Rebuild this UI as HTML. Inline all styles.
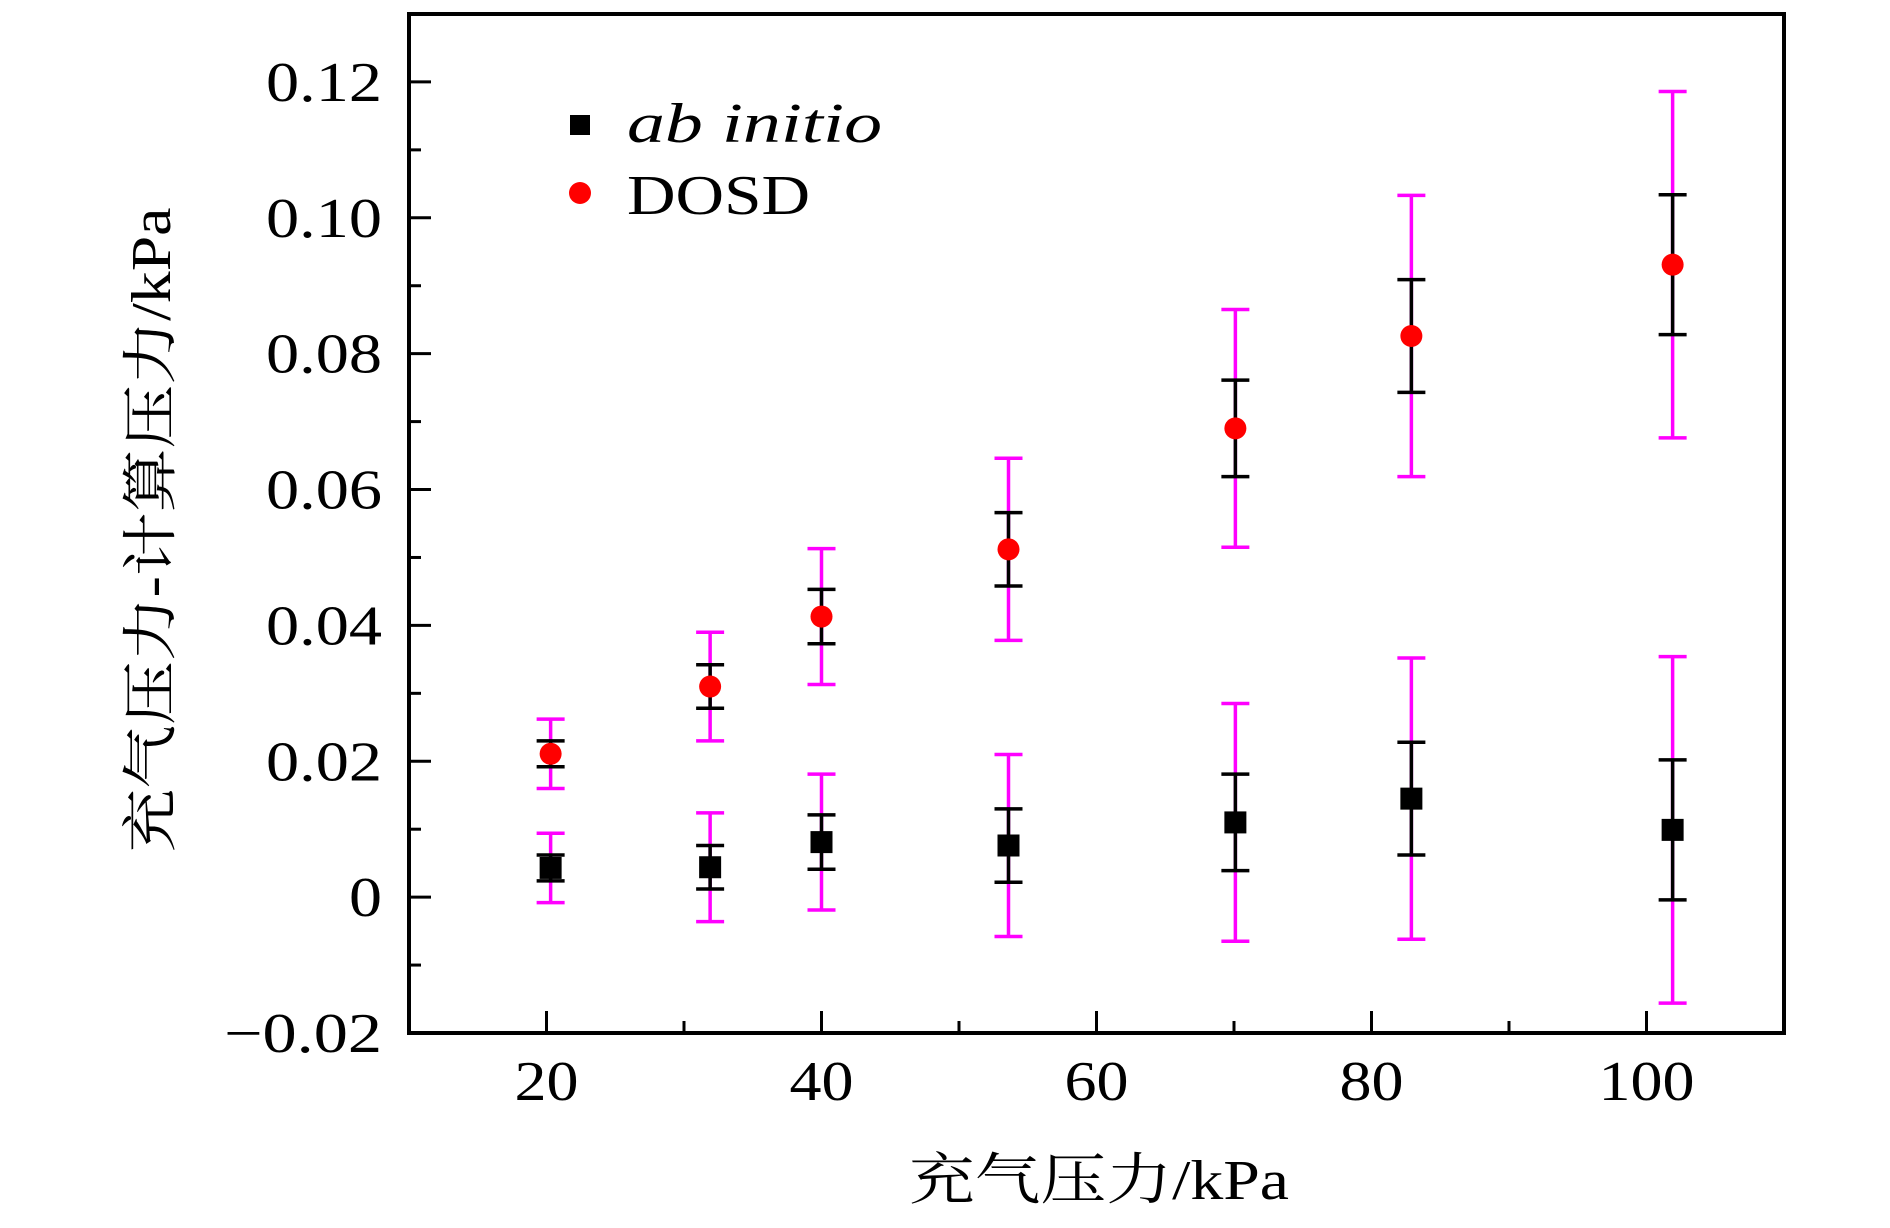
<!DOCTYPE html>
<html><head><meta charset="utf-8"><style>
html,body{margin:0;padding:0;background:#fff}
svg{display:block}
text{font-family:"Liberation Serif","Noto Serif CJK SC",serif;fill:#000}
</style></head><body>
<svg id="chart" width="1890" height="1228" xmlns="http://www.w3.org/2000/svg"></svg>
<script>
const xValues=[20.3,31.9,40.0,53.6,70.1,82.9,101.9];
const dosdValues=[0.0211,0.0310,0.0413,0.0512,0.0690,0.0826,0.0931];
const abValues=[0.0043,0.0044,0.0081,0.0076,0.0110,0.0145,0.0099];
const blackErr=[0.0019,0.0032,0.0040,0.0054,0.0071,0.0083,0.0103];
const magentaErr=[0.0051,0.0080,0.0100,0.0134,0.0175,0.0207,0.0255];
const xTicks=[20,40,60,80,100];
const xTickLabels=["20","40","60","80","100"];
const yTicks=[-0.02,0,0.02,0.04,0.06,0.08,0.10,0.12];
const yTickLabels=["\u22120.02","0","0.02","0.04","0.06","0.08","0.10","0.12"];

const L=409,R=1784,T=14,B=1033;
const X=v=>L+(v-10)/100*(R-L);
const Y=v=>B-(v+0.02)/0.15*(B-T);
const svg=document.getElementById('chart');
const NS='http://www.w3.org/2000/svg';
function mk(tag,attrs,txt){const e=document.createElementNS(NS,tag);for(const k in attrs)e.setAttribute(k,attrs[k]);if(txt!==undefined)e.textContent=txt;svg.appendChild(e);return e;}
function fitLen(s){let w=0;for(const ch of s){w+=(ch==='.'?0.5:(ch==='\u2212'?1.3:1));}return w;}

// frame
let f=mk('rect',{x:L,y:T,width:R-L,height:B-T,fill:'none',stroke:'#000','stroke-width':4});



for(let v=10;v<=110;v+=10){
  const major=xTicks.includes(v);
  let t=mk('line',{x1:X(v),x2:X(v),y1:B,y2:B-(major?22:12),stroke:'#000','stroke-width':3});
  
  
}
xTicks.forEach((v,i)=>{
  const s=xTickLabels[i];
  let t=mk('text',{x:X(v),y:1100,'font-size':56,'text-anchor':'middle',textLength:s.length*32,lengthAdjust:'spacingAndGlyphs'},s);
  
  
});
for(let k=-2;k<=13;k++){
  const v=k/100;
  const major=(k%2===0);
  let t=mk('line',{x1:L,x2:L+(major?22:12),y1:Y(v),y2:Y(v),stroke:'#000','stroke-width':3});
  
  
}
yTicks.forEach((v,i)=>{
  const s=yTickLabels[i];
  let t=mk('text',{x:382,y:Y(v)+19,'font-size':56,'text-anchor':'end',textLength:Math.round(fitLen(s)*33),lengthAdjust:'spacingAndGlyphs'},s);
  
  
});

function errbar(x,y,e,color,name){
  let a=mk('line',{x1:X(x),x2:X(x),y1:Y(y-e),y2:Y(y+e),stroke:color,'stroke-width':3.5});
  
  
  [y-e,y+e].forEach(v=>{
    let c=mk('line',{x1:X(x)-14,x2:X(x)+14,y1:Y(v),y2:Y(v),stroke:color,'stroke-width':3.5});
    
    
  });
}
xValues.forEach((x,i)=>{
  errbar(x,dosdValues[i],magentaErr[i],'#ff00ff','dosd-magenta-error');
  errbar(x,abValues[i],magentaErr[i],'#ff00ff','ab-magenta-error');
});
xValues.forEach((x,i)=>{
  errbar(x,dosdValues[i],blackErr[i],'#000','dosd-black-error');
  errbar(x,abValues[i],blackErr[i],'#000','ab-black-error');
});
xValues.forEach((x,i)=>{
  let s=mk('rect',{x:X(x)-11,y:Y(abValues[i])-11,width:22,height:22,fill:'#000'});
  
  
  let c=mk('circle',{cx:X(x),cy:Y(dosdValues[i]),r:11,fill:'#ff0000'});
  
  
});

let ls=mk('rect',{x:570,y:115,width:20,height:20,fill:'#000'});


let lt=mk('text',{x:627,y:142,'font-size':56,'font-style':'italic',textLength:255,lengthAdjust:'spacingAndGlyphs'},'ab initio');


let lc=mk('circle',{cx:580,cy:193,r:11,fill:'#ff0000'});


let ld=mk('text',{x:627,y:214,'font-size':56,textLength:183,lengthAdjust:'spacingAndGlyphs'},'DOSD');



let xt=mk('text',{x:1099,y:1199,'font-size':56,'text-anchor':'middle',textLength:380,lengthAdjust:'spacingAndGlyphs'},'充气压力/kPa');


let yt=mk('text',{x:0,y:0,'font-size':56,'text-anchor':'middle',textLength:645,lengthAdjust:'spacingAndGlyphs',transform:'translate(170,530) rotate(-90)'},'充气压力-计算压力/kPa');


</script>
</body></html>
